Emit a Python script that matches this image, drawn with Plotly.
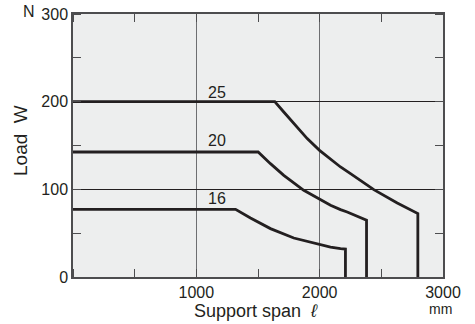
import plotly.graph_objects as go

# Series data (support span mm, load N)
span_25 = [0, 1636, 1709, 1790, 1899, 1999, 2088, 2169, 2250, 2439, 2629, 2796, 2796]
load_25 = [200, 200, 188.2, 175, 157.9, 144.5, 134.3, 125.5, 118, 99.7, 84.4, 72.3, 0]

span_20 = [0, 1501, 1601, 1709, 1871, 1999, 2088, 2169, 2223, 2380, 2380]
load_20 = [142.6, 142.6, 129.3, 116, 98.9, 88.6, 81.8, 76.9, 74.1, 64.7, 0]

span_16 = [0, 1318, 1439, 1601, 1790, 1999, 2088, 2169, 2209, 2209]
load_16 = [77.2, 77.2, 67.3, 55.2, 44.5, 37.3, 34.2, 32.4, 31.9, 0]

series_names = ["25", "20", "16"]
label_x = [1170, 1170, 1170]
label_y = [211, 156, 90]

x_ticks = [1000, 2000, 3000]
x_tick_text = ["1000", "2000", "3000"]
y_ticks = [0, 100, 200, 300]
y_tick_text = ["0", "100", "200", "300"]

INK = "#231f20"
FONT = "Liberation Sans, Arial, sans-serif"

fig = go.Figure()
for xs, ys, nm in zip([span_25, span_20, span_16], [load_25, load_20, load_16], series_names):
    fig.add_trace(go.Scatter(x=xs, y=ys, mode="lines", name=nm,
                             line=dict(color=INK, width=2.8), showlegend=False,
                             hoverinfo="skip"))

for nm, lx, ly in zip(series_names, label_x, label_y):
    fig.add_annotation(x=lx, y=ly, text=nm, showarrow=False,
                       font=dict(size=16, color=INK, family=FONT))

fig.add_annotation(xref="paper", yref="paper", x=-0.12, y=1.009, text="N",
                   showarrow=False, xanchor="center", yanchor="middle",
                   font=dict(size=16, color=INK, family=FONT))
fig.add_annotation(xref="paper", yref="paper", x=0.993, y=-0.123, text="mm",
                   showarrow=False, xanchor="center", yanchor="middle",
                   font=dict(size=14, color=INK, family=FONT))
fig.add_annotation(xref="paper", yref="paper", x=0.495, y=-0.128, text="Support span  <i>ℓ</i>",
                   showarrow=False, xanchor="center", yanchor="middle",
                   font=dict(size=18, color=INK, family=FONT))
fig.add_annotation(xref="paper", yref="paper", x=-0.14, y=0.518, text="Load  W",
                   showarrow=False, textangle=-90, xanchor="center", yanchor="middle",
                   font=dict(size=19, color=INK, family=FONT))

fig.update_layout(
    width=475, height=324,
    margin=dict(l=72.5, r=32.3, t=13.7, b=47.3, autoexpand=False),
    paper_bgcolor="white", plot_bgcolor="#edeeee",
    font=dict(family=FONT, color=INK, size=16),
)
fig.update_xaxes(range=[0, 3000], tickvals=x_ticks, ticktext=x_tick_text,
                 showgrid=True, gridcolor="#6d6e71", gridwidth=1,
                 showline=True, linecolor="#4d4d4f", linewidth=1.5, mirror="allticks",
                 ticks="", zeroline=False,
                 minor=dict(dtick=500, tick0=0, ticks="inside", ticklen=8,
                            tickcolor="#4d4d4f", tickwidth=1, showgrid=False),
                 tickfont=dict(size=16, color=INK, family=FONT))
fig.update_yaxes(range=[0, 300], tickvals=y_ticks, ticktext=y_tick_text,
                 showgrid=True, gridcolor=INK, gridwidth=1,
                 showline=True, linecolor="#4d4d4f", linewidth=1.5, mirror="allticks",
                 ticks="", zeroline=False, ticklabelstandoff=0,
                 minor=dict(dtick=50, tick0=0, ticks="inside", ticklen=8,
                            tickcolor="#4d4d4f", tickwidth=1, showgrid=False),
                 tickfont=dict(size=16, color=INK, family=FONT))

fig.write_html("out.html", config={"displayModeBar": False},
               post_script="document.body.style.margin='0';document.body.style.padding='0';")
